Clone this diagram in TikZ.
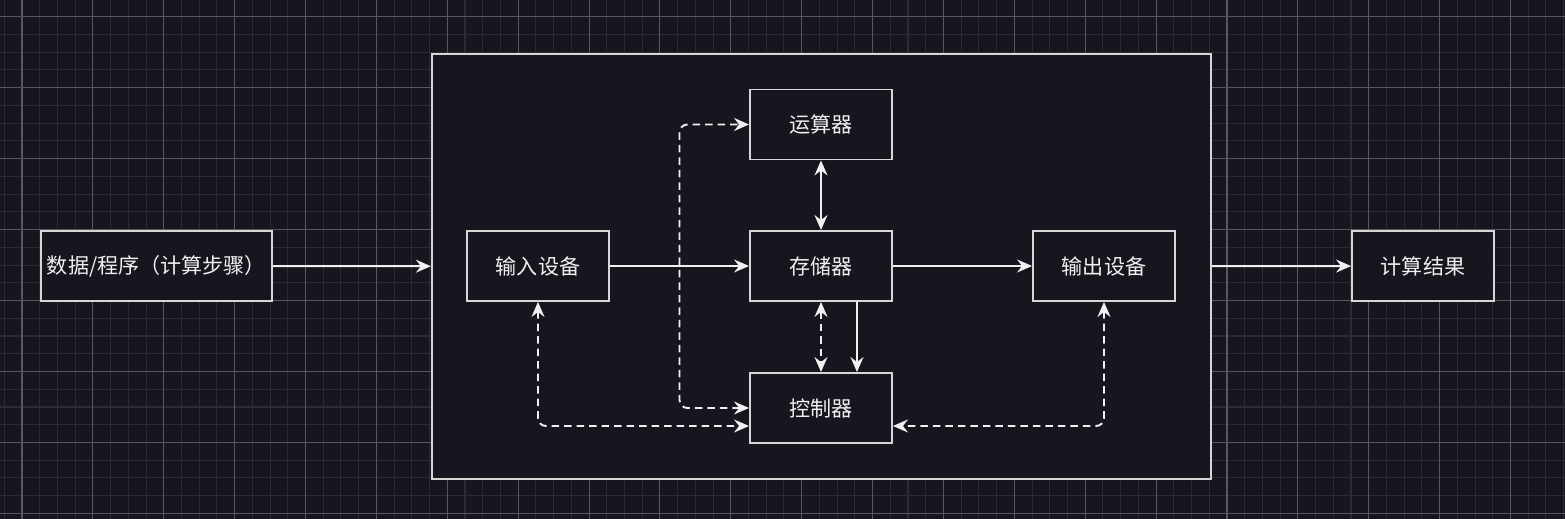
\documentclass[tikz,border=0pt]{standalone}
\usepackage{fontspec}
\setmainfont{Noto Sans CJK SC}
\usetikzlibrary{arrows.meta}

\definecolor{bgdark}{RGB}{24,21,30}
\definecolor{gridminor}{RGB}{44,42,50}
\definecolor{gridmajor}{RGB}{88,87,93}
\definecolor{edgegray}{RGB}{214,214,214}
\definecolor{inkwhite}{RGB}{240,240,240}

\tikzset{
  box/.style={draw=edgegray, fill=bgdark, line width=1.1pt, inner sep=0pt,
    minimum width=2.84cm, minimum height=1.4cm, text=inkwhite,
    font=\fontsize{12pt}{14pt}\selectfont},
  frame/.style={draw=edgegray, fill=bgdark, line width=1.1pt,
    minimum width=15.58cm, minimum height=8.5cm},
  flow/.style={draw=inkwhite, line width=1.1pt,
    -{Stealth[length=0.3cm, width=0.26cm, inset=0.1cm]}},
  both/.style={{Stealth[length=0.3cm, width=0.26cm, inset=0.1cm]}-{Stealth[length=0.3cm, width=0.26cm, inset=0.1cm]}},
  ctrl/.style={draw=inkwhite, line width=1.1pt, dash pattern=on 0.15cm off 0.1cm,
    rounded corners=0.16cm, both}
}

\begin{document}
\begin{tikzpicture}[x=0.02cm, y=-0.02cm]
  % background and grid
  \fill[bgdark] (0,0) rectangle (1565,519);
  \useasboundingbox (0,0) rectangle (1565,519);
  \foreach \i in {-1,...,87}
    \draw[gridminor, line width=0.6pt] ({22+17.72*\i},0) -- ({22+17.72*\i},519);
  \foreach \j in {-1,...,28}
    \draw[gridminor, line width=0.6pt] (0,{16.7+17.74*\j}) -- (1565,{16.7+17.74*\j});
  \foreach \i in {0,...,21}
    \draw[gridmajor, line width=0.6pt] ({22+70.88*\i},0) -- ({22+70.88*\i},519);
  \foreach \j in {0,...,7}
    \draw[gridmajor, line width=0.6pt] (0,{16.7+70.97*\j}) -- (1565,{16.7+70.97*\j});

  % computer
  \node[frame] (host) at (821.25,266.5) {};
  \node[box, minimum width=4.62cm] (src) at (156.5,266) {数据/程序（计算步骤）};
  \node[box] (res) at (1423,266) {计算结果};
  \node[box] (in) at (538,266) {输入设备};
  \node[box] (mem) at (821,266) {存储器};
  \node[box] (out) at (1104,266) {输出设备};
  \node[box] (alu) at (821,124.5) {运算器};
  \node[box] (ctl) at (821,408) {控制器};
  \coordinate (busL) at (679.5,266);

  \draw[flow] (src) -- (host);
  \draw[flow] (host) -- (res);
  \draw[flow] (in) -- (mem);
  \draw[flow] (mem) -- (out);
  \draw[flow, both] (alu) -- (mem);
  \draw[flow] ([xshift=0.72cm]mem.south) -- ([xshift=0.72cm]ctl.north);
  \draw[ctrl] (mem) -- (ctl);
  \draw[ctrl] (ctl.west) -| (busL) |- (alu.west);
  \draw[ctrl] (in.south) |- ([yshift=-0.36cm]ctl.west);
  \draw[ctrl] (out.south) |- ([yshift=-0.36cm]ctl.east);
\end{tikzpicture}
\end{document}
